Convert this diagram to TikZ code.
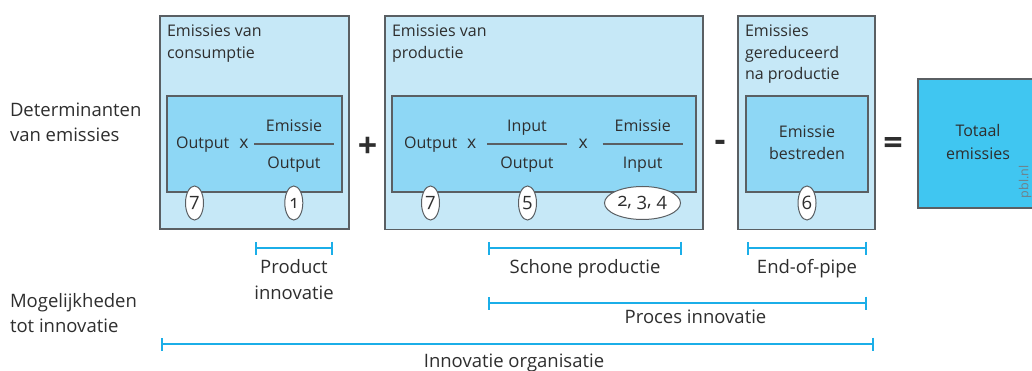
\documentclass[tikz,border=0pt]{standalone}
\usepackage{fontspec}
\setmainfont{Open Sans}
\newfontfamily\numfont[Numbers=OldStyle]{Open Sans}
\usetikzlibrary{arrows.meta,shapes.geometric}
\definecolor{outerfill}{HTML}{C6E8F7}
\definecolor{innerfill}{HTML}{8ED7F5}
\definecolor{totalfill}{HTML}{40C6F1}
\definecolor{edgec}{HTML}{5A5F63}
\definecolor{brkc}{HTML}{1BAEE8}
\definecolor{txtc}{HTML}{2E2E2E}
\definecolor{pblc}{HTML}{6F8089}
\begin{document}
\begin{tikzpicture}[x=1pt,y=-1pt,
  outerbox/.style={draw=edgec, line width=1.3pt, fill=outerfill, inner sep=0pt, outer sep=0pt, anchor=north west},
  innerbox/.style={draw=edgec, line width=1.1pt, fill=innerfill, inner sep=0pt, outer sep=0pt, anchor=north west},
  totalbox/.style={draw=edgec, line width=1.3pt, fill=totalfill, inner sep=0pt, outer sep=0pt, anchor=north west},
  txt/.style={text=txtc, inner sep=0pt, outer sep=0pt},
  boxtext/.style={txt, font=\fontsize{16}{19}\selectfont},
  times/.style={txt, font=\fontsize{17.5}{20}\selectfont},
  big/.style={txt, font=\fontsize{18.5}{22}\selectfont},
  op/.style={txt, font=\bfseries\fontsize{34}{40}\selectfont},
  num/.style={ellipse, draw=edgec, line width=1pt, fill=white, inner sep=0pt,
    minimum width=18pt, minimum height=34pt, text=txtc,
    font=\numfont\fontsize{18.5}{22}\selectfont},
  brk/.style={draw=brkc, line width=1.8pt, {Bar[width=13pt]}-{Bar[width=13pt]}},
  frac/.style={draw=edgec, line width=1.4pt},
]
\useasboundingbox (0,0) rectangle (1032,371);
\clip (0,0) rectangle (1032,371);

% left labels
\node[big, anchor=base west] (det1) at (10,117) {Determinanten};
\node[big, anchor=base west] (det2) at (10,142) {van emissies};
\node[big, anchor=base west] (mog1) at (10,307) {Mogelijkheden};
\node[big, anchor=base west] (mog2) at (10,332) {tot innovatie};

% box 1: consumption
\node[outerbox, minimum width=189pt, minimum height=213pt] (cons) at (160,16) {};
\node[boxtext, anchor=base west] (consh1) at (167,37) {Emissies van};
\node[boxtext, anchor=base west] (consh2) at (167,58.5) {consumptie};
\node[innerbox, minimum width=175pt, minimum height=96pt] (consin) at (167,96) {};
\node[boxtext, anchor=base] (c1out) at (202.7,149) {Output};
\node[times, anchor=base] (c1x) at (244,149) {x};
\coordinate (c1fa) at (254,144);
\coordinate (c1fb) at (334,144);
\draw[frac] (c1fa) -- (c1fb);
\node[boxtext, anchor=base] (c1num) at (294,132) {Emissie};
\node[boxtext, anchor=base] (c1den) at (294,168.5) {Output};
\node[num] (n7a) at (194.5,203) {7};
\node[num] (n1) at (293.8,203) {1};

\node[op] (plus) at (367.5,147.5) {+};

% box 2: production
\node[outerbox, minimum width=318pt, minimum height=213.5pt] (prod) at (385,16) {};
\node[boxtext, anchor=base west] (prodh1) at (392,37) {Emissies van};
\node[boxtext, anchor=base west] (prodh2) at (392,58.5) {productie};
\node[innerbox, minimum width=304pt, minimum height=96pt] (prodin) at (392,96) {};
\node[boxtext, anchor=base] (p2out) at (430.7,149) {Output};
\node[times, anchor=base] (p2x1) at (471.7,149) {x};
\coordinate (p2fa) at (487.3,144);
\coordinate (p2fb) at (566.7,144);
\draw[frac] (p2fa) -- (p2fb);
\node[boxtext, anchor=base] (p2num1) at (527,132) {Input};
\node[boxtext, anchor=base] (p2den1) at (527,168.5) {Output};
\node[times, anchor=base] (p2x2) at (583.3,149) {x};
\coordinate (p2ga) at (602.7,144);
\coordinate (p2gb) at (682.7,144);
\draw[frac] (p2ga) -- (p2gb);
\node[boxtext, anchor=base] (p2num2) at (642.7,132) {Emissie};
\node[boxtext, anchor=base] (p2den2) at (642.7,168.5) {Input};
\node[num] (n7b) at (430.5,203) {7};
\node[num] (n5) at (527.5,203) {5};
\node[num, minimum width=76pt, minimum height=33pt] (n234) at (642.5,203) {2, 3, 4};

\node[op] (minus) at (720,145.5) {-};

% box 3: end of pipe
\node[outerbox, minimum width=137pt, minimum height=213.5pt] (eop) at (738,16) {};
\node[boxtext, anchor=base west] (eoph1) at (745,37) {Emissies};
\node[boxtext, anchor=base west] (eoph2) at (745,58.5) {gereduceerd};
\node[boxtext, anchor=base west] (eoph3) at (745,80) {na productie};
\node[innerbox, minimum width=122pt, minimum height=96pt] (eopin) at (746,96) {};
\node[boxtext, anchor=base] (eopt1) at (807,138) {Emissie};
\node[boxtext, anchor=base] (eopt2) at (807,160) {bestreden};
\node[num] (n6) at (807,203) {6};

\node[op] (equals) at (893,146) {=};

% total
\node[totalbox, minimum width=122pt, minimum height=129pt] (total) at (918,79) {};
\node[boxtext, anchor=base] (tot1) at (978,137) {Totaal};
\node[boxtext, anchor=base] (tot2) at (978,160) {emissies};
\node[text=pblc, inner sep=0pt, rotate=90, font=\fontsize{12.5}{14}\selectfont] (pbl) at (1025,182) {pbl.nl};

% innovation brackets
\coordinate (pia) at (255,248);
\coordinate (pib) at (333,248);
\draw[brk] (pia) -- (pib);
\node[big, anchor=base] (pit1) at (294,273.5) {Product};
\node[big, anchor=base] (pit2) at (294,299) {innovatie};

\coordinate (spa) at (488,248);
\coordinate (spb) at (682,248);
\draw[brk] (spa) -- (spb);
\node[big, anchor=base] (spt) at (585,273.5) {Schone productie};

\coordinate (epa) at (747,248);
\coordinate (epb) at (867,248);
\draw[brk] (epa) -- (epb);
\node[big, anchor=base] (ept) at (807,273.5) {End-of-pipe};

\coordinate (pra) at (488,303);
\coordinate (prb) at (867,303);
\draw[brk] (pra) -- (prb);
\node[big, anchor=base] (prt) at (695.5,323.5) {Proces innovatie};

\coordinate (ioa) at (161,344);
\coordinate (iob) at (874,344);
\draw[brk] (ioa) -- (iob);
\node[big, anchor=base] (iot) at (514,367.5) {Innovatie organisatie};
\end{tikzpicture}
\end{document}
